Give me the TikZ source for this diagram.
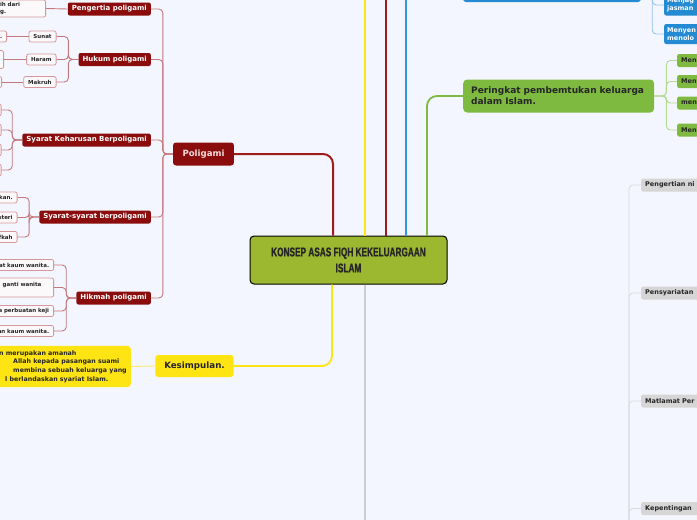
\documentclass[tikz,border=0pt]{standalone}
\usepackage{fontspec}
\setmainfont{DejaVu Sans}
\newfontfamily\titlefont{Liberation Sans}[FakeStretch=0.65, FakeBold=0.8]
\usepackage{xcolor}
\usepackage{tikz}
\usetikzlibrary{calc}
\definecolor{bgpaper}{RGB}{243, 246, 254}
\definecolor{olivecore}{RGB}{156, 183, 48}
\definecolor{polired}{RGB}{138, 12, 12}
\definecolor{redbranch}{RGB}{160, 28, 28}
\definecolor{polipink}{RGB}{245, 222, 222}
\definecolor{redtwig}{RGB}{196, 120, 124}
\definecolor{leafborder}{RGB}{214, 150, 155}
\definecolor{leaffill}{RGB}{252, 249, 251}
\definecolor{kesyellow}{RGB}{255, 228, 20}
\definecolor{yeltwig}{RGB}{250, 232, 110}
\definecolor{bluecore}{RGB}{36, 139, 211}
\definecolor{bluebranch}{RGB}{50, 150, 220}
\definecolor{bluetwig}{RGB}{150, 195, 235}
\definecolor{greencore}{RGB}{126, 186, 64}
\definecolor{greentwig}{RGB}{180, 218, 145}
\definecolor{graycore}{RGB}{205, 205, 205}
\definecolor{graynode}{RGB}{214, 214, 214}
\definecolor{graytwig}{RGB}{218, 220, 226}

\begin{document}
\begin{tikzpicture}[x=1pt, y=-1pt,
    core/.style={rectangle, rounded corners=4pt, draw=black, line width=1pt,
                fill=olivecore, minimum width=197pt, minimum height=48pt,
                align=center, text=black!85,
                font=\titlefont\bfseries\fontsize{12.7}{16}\selectfont},
    poli/.style={rectangle, rounded corners=3pt, fill=polired, text=polipink,
                minimum height=23pt, inner xsep=9.5pt,
                font=\bfseries\fontsize{8.6}{10}\selectfont},
    sub/.style={rectangle, rounded corners=2pt, fill=polired, text=white,
                minimum height=13pt, inner xsep=4pt, inner ysep=1pt,
                anchor=east, font=\bfseries\fontsize{7}{8}\selectfont},
    leaf/.style={rectangle, rounded corners=2pt, draw=leafborder,
                line width=0.8pt, fill=leaffill, text=black!85,
                minimum height=11pt, inner xsep=4.5pt, inner ysep=1pt,
                anchor=east, font=\bfseries\fontsize{5.5}{6.6}\selectfont},
    kes/.style={rectangle, rounded corners=3pt, fill=kesyellow, text=black!85,
                minimum height=22pt, inner xsep=9pt,
                font=\bfseries\fontsize{8.7}{10}\selectfont},
    kesleaf/.style={rectangle, rounded corners=3pt, fill=kesyellow,
                text=black!85, minimum height=39pt, inner xsep=4pt,
                anchor=west, font=\bfseries\fontsize{6.3}{8.6}\selectfont},
    stage/.style={rectangle, rounded corners=4pt, fill=greencore,
                text=black!85, minimum height=33pt, inner xsep=8pt,
                text width=175pt, align=left, anchor=west,
                font=\bfseries\fontsize{9}{11}\selectfont},
    stageleaf/.style={rectangle, rounded corners=2pt, fill=greencore,
                text=black!85, minimum height=13pt, inner xsep=4pt,
                inner ysep=1pt, text width=32pt, align=left, anchor=west,
                font=\bfseries\fontsize{6.5}{8}\selectfont},
    duty/.style={rectangle, rounded corners=3pt, fill=bluecore,
                minimum width=178pt, minimum height=22pt},
    dutyleaf/.style={rectangle, rounded corners=2pt, fill=bluecore,
                text=white, minimum height=20pt, inner xsep=3pt,
                text width=34pt, align=left, anchor=west,
                font=\bfseries\fontsize{6.5}{8}\selectfont},
    nikah/.style={rectangle, rounded corners=2pt, fill=graynode,
                text=black!85, minimum height=13pt, inner xsep=4pt,
                inner ysep=1pt, text width=60pt, align=left, anchor=west,
                font=\bfseries\fontsize{6.5}{8}\selectfont},
    redline/.style={draw=redbranch, line width=2pt, rounded corners=10pt},
    redthin/.style={draw=redtwig, line width=0.9pt, rounded corners=4pt},
    yelline/.style={draw=kesyellow, line width=1.8pt, rounded corners=10pt},
    yelthin/.style={draw=yeltwig, line width=0.9pt},
    blueline/.style={draw=bluebranch, line width=1.8pt, rounded corners=10pt},
    bluethin/.style={draw=bluetwig, line width=0.9pt, rounded corners=4pt},
    greenline/.style={draw=greencore, line width=1.8pt, rounded corners=10pt},
    greenthin/.style={draw=greentwig, line width=0.9pt, rounded corners=4pt},
    grayline/.style={draw=graycore, line width=1.8pt},
    graythin/.style={draw=graytwig, line width=0.9pt, rounded corners=4pt}]

    \useasboundingbox (0,0) rectangle (697,520);
    \clip (0,0) rectangle (697,520);
    \fill[bgpaper] (0,0) rectangle (697,520);

    % Centre
    \node[core] (core) at (348.5,260) {KONSEP ASAS FIQH KEKELUARGAAN\\ISLAM};

    % Poligami
    \node[poli] (poli) at (203.5,154) {Poligami};
    \node[sub] (pen) at (151,9)   {Pengertia poligami};
    \node[sub] (huk) at (151,59.5) {Hukum poligami};
    \node[sub] (kha) at (151,140) {Syarat Keharusan Berpoligami};
    \node[sub] (sya) at (151,217) {Syarat-syarat berpoligami};
    \node[sub] (hik) at (151,298) {Hikmah poligami};

    \node[leaf, text width=44pt, align=left, minimum height=17pt]
        (pen1) at (46,8.5) {\hspace*{3pt}ih dari\\\hspace*{3pt}g.};

    \node[leaf] (sunat)  at (56.5,36.5) {Sunat};
    \node[leaf] (haram)  at (56.5,59.5) {Haram};
    \node[leaf] (makruh) at (56.5,82)   {Makruh};
    \node[leaf, text width=22pt, align=right] (sunat1) at (7,36.5) {n.};
    \node[leaf, minimum width=30pt, minimum height=18pt] (haram1) at (4,59.5) {};
    \node[leaf, minimum width=30pt] (makruh1) at (2,82) {};

    \foreach \i/\y in {1/110, 2/130, 3/150, 4/170}
        \node[leaf, minimum width=30pt, minimum height=12pt] (kha\i) at (1.5,\y) {};

    \node[leaf, text width=30pt, align=right] (sya1) at (17.5,197.5) {kan.};
    \node[leaf, text width=30pt, align=right] (sya2) at (17.5,217.5) {steri};
    \node[leaf, text width=30pt, align=right] (sya3) at (17.5,237)   {fkah};

    \node[leaf, text width=52pt, align=right] (hik1) at (54,265) {at kaum wanita.};
    \node[leaf, text width=49.5pt, align=left, minimum height=19pt]
        (hik2) at (54,287.5) {\hspace*{3pt}ganti wanita\\\mbox{}};
    \node[leaf, text width=52pt, align=right] (hik3) at (54,311) {a perbuatan keji};
    \node[leaf, text width=52pt, align=right] (hik4) at (54,331) {an kaum wanita.};

    % Kesimpulan
    \node[kes] (kes) at (194.5,366) {Kesimpulan.};
    \node[kesleaf] (kes1) at (-5,366.5)
        {\begin{tabular}{@{}l@{}}
         n merupakan amanah\\
         \hspace*{14pt}Allah kepada pasangan suami\\
         \hspace*{14pt}membina sebuah keluarga yang\\
         \hspace*{6pt}l berlandaskan syariat Islam.
         \end{tabular}};

    % Peringkat
    \node[stage] (per) at (463,96)
        {Peringkat pembemtukan keluarga dalam Islam.};
    \node[stageleaf] (per1) at (677,60.5) {Men};
    \node[stageleaf] (per2) at (677,81.5) {Men};
    \node[stageleaf] (per3) at (677,103)  {men};
    \node[stageleaf] (per4) at (677,130)  {Men};

    % Top blue branch
    \node[duty] (duty) at (552,-9) {};
    \node[dutyleaf] (duty1) at (664,5)  {Menjag\\jasman};
    \node[dutyleaf] (duty2) at (664,34) {Menyen\\menolo};

    % Grey branch
    \coordinate (downG) at (365,540);
    \coordinate (nikahhub) at (617,560);
    \node[nikah] (nik1) at (641,185)   {Pengertian ni};
    \node[nikah] (nik2) at (641,293)   {Pensyariatan};
    \node[nikah] (nik3) at (641,401)   {Matlamat Per};
    \node[nikah] (nik4) at (641,508.5) {Kepentingan};

    % Off-page branches
    \coordinate (upY) at (365,-20);
    \coordinate (upR) at (385.5,-20);

    % Main branches
    \draw[redline] ([xshift=-15.5pt]core.north) |- (poli.east);
    \draw[yelline] ([xshift=16.5pt]core.north) -- (upY);
    \draw[redline] ([xshift=37pt]core.north) -- (upR);
    \draw[blueline] ([xshift=57.5pt]core.north) |- (duty.west);
    \draw[greenline] ([xshift=78.5pt]core.north) |- (per.west);
    \draw[yelline] ([xshift=-16.5pt]core.south) |- (kes.east);
    \draw[grayline] ([xshift=16.5pt]core.south) -- (downG);

    % Poligami twigs
    \foreach \n in {pen, huk, kha, sya, hik}
        \draw[redthin] (poli.west) -- ++(-10,0) |- (\n.east);
    \draw[redthin] (pen.west) -- (pen1.east);
    \foreach \n in {sunat, haram, makruh}
        \draw[redthin] (huk.west) -- ++(-10,0) |- (\n.east);
    \draw[redthin] (sunat.west) -- (sunat1.east);
    \draw[redthin] (haram.west) -- (haram1.east);
    \draw[redthin] (makruh.west) -- (makruh1.east);
    \foreach \i in {1,...,4}
        \draw[redthin] (kha.west) -- ++(-10,0) |- (kha\i.east);
    \foreach \i in {1,2,3}
        \draw[redthin] (sya.west) -- ++(-10,0) |- (sya\i.east);
    \foreach \i in {1,...,4}
        \draw[redthin] (hik.west) -- ++(-10,0) |- (hik\i.east);

    % Other twigs
    \draw[yelthin] (kes.west) -- (kes1.east);
    \foreach \i in {1,...,4}
        \draw[greenthin] (per.east) -- ++(12,0) |- (per\i.west);
    \foreach \i in {1,2}
        \draw[bluethin] (duty.east) -- ++(11,0) |- (duty\i.west);
    \foreach \i in {1,...,4}
        \draw[graythin] (nikahhub) -- ++(12,0) |- (nik\i.west);
\end{tikzpicture}
\end{document}
